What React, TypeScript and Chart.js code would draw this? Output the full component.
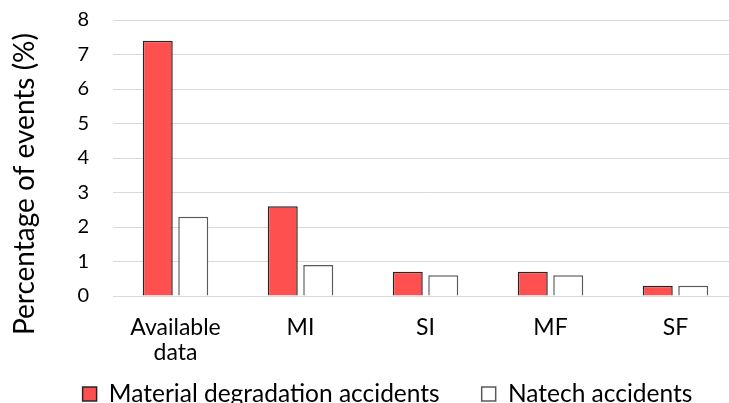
import React, { useEffect, useRef } from "react";
import { Chart, registerables } from "chart.js";

Chart.register(...registerables);

const categories: (string | string[])[] = [["Available", "data"], "MI", "SI", "MF", "SF"];
const materialDegradation = [7.4, 2.6, 0.7, 0.7, 0.3];
const natech = [2.3, 0.9, 0.6, 0.6, 0.3];
const seriesNames = ["Material degradation accidents", "Natech accidents"];
const yTitle = "Percentage of events (%)";
const yMin = 0;
const yMax = 8;
const yStep = 1;

const FONT = "Lato";

const yTitlePlugin = {
  id: "yTitlePlugin",
  afterDraw(chart: any) {
    const ctx = chart.ctx;
    const area = chart.chartArea;
    ctx.save();
    ctx.translate(34, (area.top + area.bottom) / 2 + 26);
    ctx.rotate(-Math.PI / 2);
    ctx.font = `28px ${FONT}`;
    ctx.fillStyle = "#000";
    ctx.textAlign = "center";
    ctx.textBaseline = "alphabetic";
    ctx.fillText(yTitle, 0, 0);
    ctx.restore();
  },
};

// let the multi-line category labels extend below the x-axis box
const labelAreaPlugin = {
  id: "labelAreaPlugin",
  afterLayout(chart: any) {
    const x = chart.scales.x;
    if (x) x.bottom = chart.height;
  },
};

export default function App() {
  const ref = useRef<HTMLCanvasElement>(null);
  useEffect(() => {
    if (!ref.current) return;
    const chart = new Chart(ref.current, {
      type: "bar",
      data: {
        labels: categories,
        datasets: [
          {
            label: seriesNames[0],
            data: materialDegradation,
            backgroundColor: "#FF5050",
            borderColor: "#262626",
            borderWidth: 1.5,
            categoryPercentage: 0.568,
            barPercentage: 0.845,
          },
          {
            label: seriesNames[1],
            data: natech,
            backgroundColor: "#FFFFFF",
            borderColor: "#595959",
            borderWidth: 1.5,
            categoryPercentage: 0.568,
            barPercentage: 0.845,
          },
        ],
      },
      options: {
        responsive: false,
        animation: false,
        devicePixelRatio: 1,
        layout: { padding: { left: 37, right: 7, top: 20, bottom: -13.25 } },
        plugins: {
          tooltip: { enabled: false },
          legend: {
            position: "bottom",
            labels: {
              boxWidth: 14,
              boxHeight: 14,
              padding: 42,
              color: "#000",
              font: { family: FONT, size: 24.5 },
            },
          },
        },
        scales: {
          x: {
            afterFit: (scale: any) => {
              scale.height = 43.75;
            },
            grid: { display: false },
            border: { display: false },
            ticks: {
              color: "#000",
              font: { family: FONT, size: 23, lineHeight: 1.1 },
              padding: 11,
              maxRotation: 0,
              autoSkip: false,
            },
          },
          y: {
            min: yMin,
            max: yMax,
            afterFit: (scale: any) => {
              scale.width = 76;
              scale.paddingTop = 12;
            },
            grid: { color: "#D9D9D9", lineWidth: 1, drawTicks: false },
            border: { display: false },
            ticks: {
              stepSize: yStep,
              color: "#000",
              font: { family: FONT, size: 20 },
              padding: 24,
            },
          },
        },
      },
      plugins: [yTitlePlugin, labelAreaPlugin],
    });
    return () => chart.destroy();
  }, []);
  return (
    <div
      style={{
        position: "fixed",
        left: 0,
        top: 0,
        width: 729,
        height: 403,
        overflow: "hidden",
        background: "#fff",
      }}
    >
      <canvas ref={ref} width={745} height={403} style={{ display: "block" }} />
    </div>
  );
}
